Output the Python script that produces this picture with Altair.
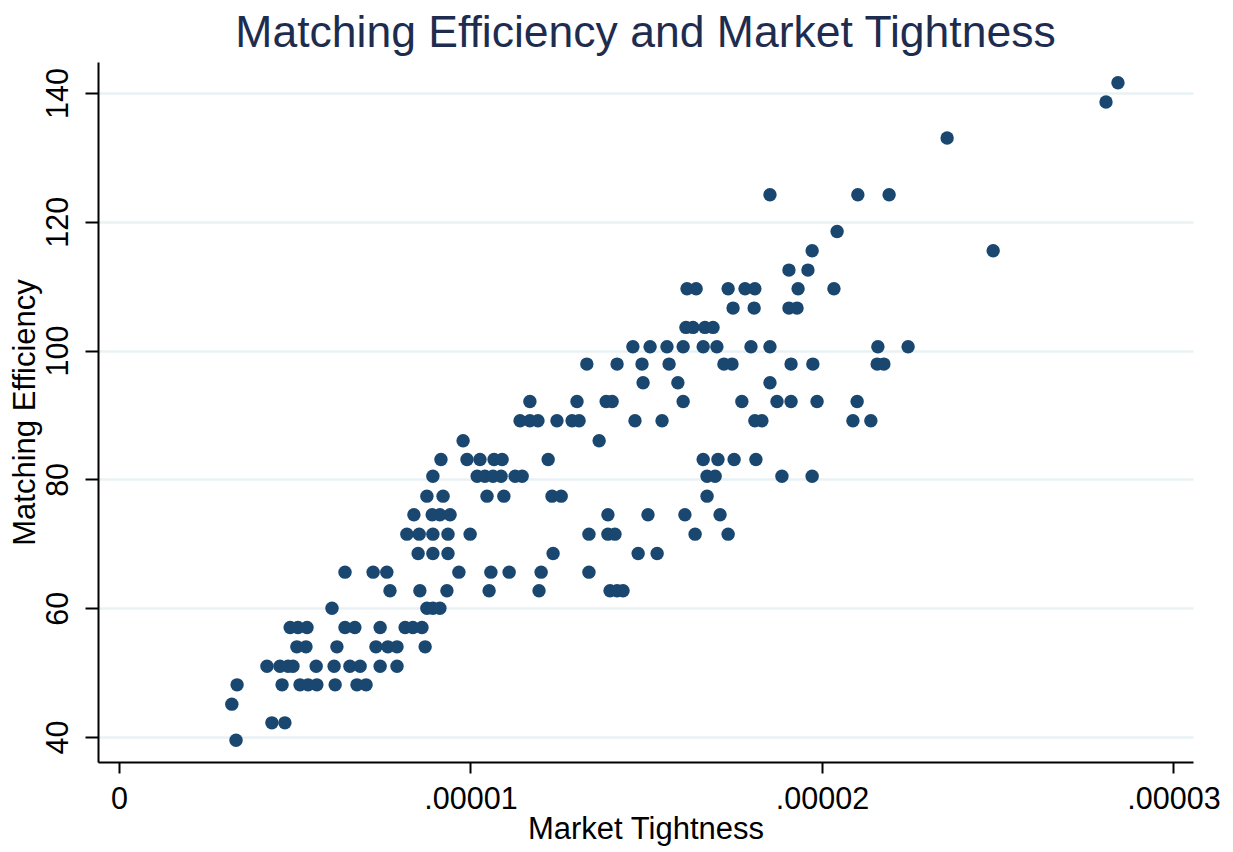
import altair as alt
import pandas as pd

chart_title = "Matching Efficiency and Market Tightness"
x_title = "Market Tightness"
y_title = "Matching Efficiency"
x_ticks = [0, 0.00001, 0.00002, 0.00003]
x_tick_labels = ["0", ".00001", ".00002", ".00003"]
y_ticks = [40, 60, 80, 100, 120, 140]

# Matching efficiency (y) and market tightness (x), point by point
efficiency = [
    39.5,
    42.2, 42.2,
    45.1,
    48.1, 48.1, 48.1, 48.1, 48.1, 48.1, 48.1, 48.1,
    51.0, 51.0, 51.0, 51.0, 51.0, 51.0, 51.0, 51.0, 51.0, 51.0,
    54.0, 54.0, 54.0, 54.0, 54.0, 54.0, 54.0,
    57.0, 57.0, 57.0, 57.0, 57.0, 57.0, 57.0, 57.0, 57.0,
    60.0, 60.0, 60.0, 60.0,
    62.7, 62.7, 62.7, 62.7, 62.7, 62.7, 62.7, 62.7,
    65.6, 65.6, 65.6, 65.6, 65.6, 65.6, 65.6, 65.6,
    68.5, 68.5, 68.5, 68.5, 68.5, 68.5,
    71.5, 71.5, 71.5, 71.5, 71.5, 71.5, 71.5, 71.5, 71.5, 71.5,
    74.5, 74.5, 74.5, 74.5, 74.5, 74.5, 74.5, 74.5,
    77.4, 77.4, 77.4, 77.4, 77.4, 77.4, 77.4,
    80.5, 80.5, 80.5, 80.5, 80.5, 80.5, 80.5, 80.5, 80.5, 80.5, 80.5,
    83.1, 83.1, 83.1, 83.1, 83.1, 83.1, 83.1, 83.1, 83.1, 83.1,
    86.0, 86.0,
    89.1, 89.1, 89.1, 89.1, 89.1, 89.1, 89.1, 89.1, 89.1, 89.1, 89.1, 89.1,
    92.1, 92.1, 92.1, 92.1, 92.1, 92.1, 92.1, 92.1, 92.1, 92.1,
    95.0, 95.0, 95.0,
    97.9, 97.9, 97.9, 97.9, 97.9, 97.9, 97.9, 97.9, 97.9, 97.9,
    100.6, 100.6, 100.6, 100.6, 100.6, 100.6, 100.6, 100.6, 100.6, 100.6,
    103.6, 103.6, 103.6, 103.6,
    106.6, 106.6, 106.6, 106.6,
    109.6, 109.6, 109.6, 109.6, 109.6, 109.6, 109.6,
    112.5, 112.5,
    115.5, 115.5,
    118.5,
    124.2, 124.2, 124.2,
    133.0,
    138.6,
    141.6,
]

tightness = [
    3.33e-6,
    4.35e-6, 4.72e-6,
    3.21e-6,
    3.36e-6, 4.64e-6, 5.15e-6, 5.38e-6, 5.63e-6, 6.15e-6, 6.77e-6, 7.03e-6,
    4.21e-6, 4.58e-6, 4.81e-6, 4.95e-6, 5.61e-6, 6.12e-6, 6.57e-6, 6.86e-6, 7.43e-6, 7.91e-6,
    5.06e-6, 5.32e-6, 6.20e-6, 7.31e-6, 7.65e-6, 7.91e-6, 8.71e-6,
    4.87e-6, 5.09e-6, 5.35e-6, 6.43e-6, 6.71e-6, 7.43e-6, 8.14e-6, 8.36e-6, 8.62e-6,
    6.06e-6, 8.76e-6, 8.93e-6, 9.13e-6,
    7.71e-6, 8.56e-6, 9.33e-6, 10.53e-6, 11.95e-6, 13.97e-6, 14.17e-6, 14.34e-6,
    6.43e-6, 7.23e-6, 7.62e-6, 9.67e-6, 10.58e-6, 11.10e-6, 12.01e-6, 13.37e-6,
    8.51e-6, 8.93e-6, 9.36e-6, 12.35e-6, 14.77e-6, 15.31e-6,
    8.19e-6, 8.54e-6, 8.93e-6, 9.36e-6, 9.99e-6, 13.37e-6, 13.91e-6, 14.11e-6, 16.39e-6, 17.33e-6,
    8.39e-6, 8.91e-6, 9.13e-6, 9.42e-6, 13.91e-6, 15.05e-6, 16.10e-6, 17.10e-6,
    8.76e-6, 9.22e-6, 10.47e-6, 10.95e-6, 12.32e-6, 12.58e-6, 16.73e-6,
    8.93e-6, 10.19e-6, 10.41e-6, 10.64e-6, 10.87e-6, 11.27e-6, 11.47e-6, 16.73e-6, 16.96e-6, 18.86e-6, 19.72e-6,
    9.16e-6, 9.90e-6, 10.27e-6, 10.67e-6, 10.90e-6, 12.21e-6, 16.62e-6, 17.04e-6, 17.50e-6, 18.12e-6,
    9.79e-6, 13.66e-6,
    11.41e-6, 11.69e-6, 11.92e-6, 12.46e-6, 12.89e-6, 13.09e-6, 14.68e-6, 15.45e-6, 18.09e-6, 18.29e-6, 20.88e-6, 21.39e-6,
    11.69e-6, 13.03e-6, 13.86e-6, 14.03e-6, 16.05e-6, 17.72e-6, 18.72e-6, 19.12e-6, 19.86e-6, 21.00e-6,
    14.91e-6, 15.90e-6, 18.52e-6,
    13.31e-6, 14.17e-6, 14.88e-6, 15.65e-6, 17.21e-6, 17.44e-6, 19.12e-6, 19.74e-6, 21.57e-6, 21.76e-6,
    14.62e-6, 15.11e-6, 15.59e-6, 16.05e-6, 16.62e-6, 17.01e-6, 17.98e-6, 18.52e-6, 21.59e-6, 22.45e-6,
    16.13e-6, 16.33e-6, 16.67e-6, 16.90e-6,
    17.47e-6, 18.07e-6, 19.06e-6, 19.29e-6,
    16.16e-6, 16.42e-6, 17.33e-6, 17.81e-6, 18.09e-6, 19.32e-6, 20.34e-6,
    19.06e-6, 19.60e-6,
    19.72e-6, 24.87e-6,
    20.43e-6,
    18.52e-6, 21.02e-6, 21.91e-6,
    23.56e-6,
    28.08e-6,
    28.42e-6,
]

df = pd.DataFrame({"tightness": tightness, "efficiency": efficiency})

FONT = "Liberation Sans"
label_expr = f"{x_tick_labels}[round(datum.value / 0.00001)]"

chart = (
    alt.Chart(df)
    .mark_circle(size=180, color="#1A476F", opacity=1)
    .encode(
        x=alt.X(
            "tightness:Q",
            scale=alt.Scale(domain=[-0.597e-6, 30.555e-6], nice=False, zero=False),
            axis=alt.Axis(
                values=x_ticks,
                labelExpr=label_expr,
                title=x_title,
                grid=False,
                domainColor="black",
                domainWidth=2,
                tickColor="black",
                tickWidth=2,
                tickSize=11,
                labelFont=FONT,
                labelFontSize=30.5,
                labelColor="black",
                labelPadding=11,
                labelFlush=False,
                labelOverlap=False,
                titleFont=FONT,
                titleFontSize=31,
                titleFontWeight="normal",
                titleColor="black",
                titlePadding=0,
            ),
        ),
        y=alt.Y(
            "efficiency:Q",
            scale=alt.Scale(domain=[36.12, 144.81], nice=False, zero=False),
            axis=alt.Axis(
                values=y_ticks,
                title=y_title,
                grid=True,
                gridColor="#EAF1F3",
                gridWidth=2.5,
                domainColor="black",
                domainWidth=2,
                tickColor="black",
                tickWidth=2,
                tickSize=13,
                labelAngle=270,
                labelAlign="center",
                labelBaseline="alphabetic",
                labelPadding=18,
                labelFont=FONT,
                labelFontSize=30.5,
                labelColor="black",
                labelFlush=False,
                labelOverlap=False,
                titleFont=FONT,
                titleFontSize=31,
                titleFontWeight="normal",
                titleColor="black",
                titlePadding=2,
            ),
        ),
    )
    .properties(
        width=1095,
        height=700,
        title=alt.TitleParams(
            chart_title,
            font=FONT,
            fontSize=44.5,
            fontWeight="normal",
            color="#1E2D4F",
            anchor="middle",
            frame="group",
            offset=6,
        ),
        autosize=alt.AutoSizeParams(type="none"),
        padding={"left": 90, "top": 54, "right": 30, "bottom": 90},
        background="white",
    )
    .configure_view(stroke=None)
)

chart.save("out.html", embed_options={"renderer": "svg", "actions": False})
